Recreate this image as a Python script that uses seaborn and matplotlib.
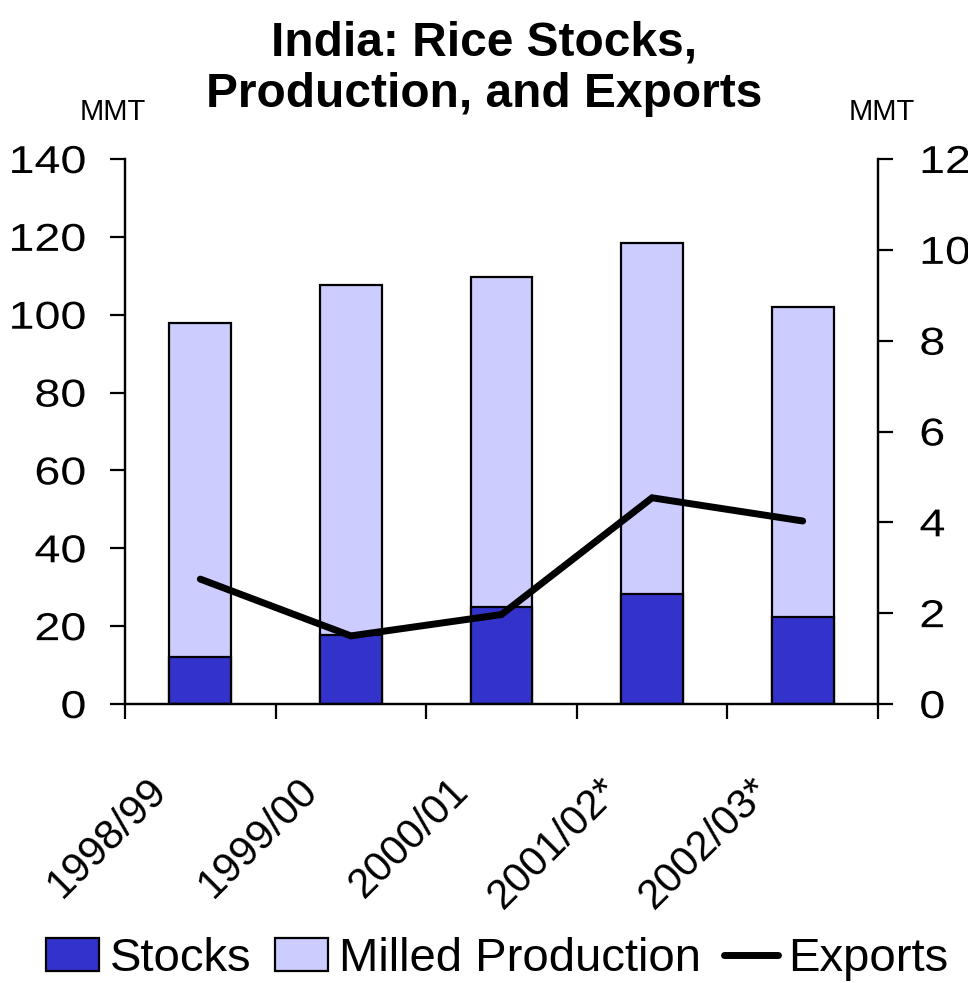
import matplotlib
matplotlib.use("Agg")
import matplotlib.pyplot as plt
import matplotlib.transforms as mtransforms
import matplotlib.patheffects as pe
from matplotlib.patches import Patch
from matplotlib.lines import Line2D
import seaborn as sns
import pandas as pd
import numpy as np

categories = ["1998/99", "1999/00", "2000/01", "2001/02*", "2002/03*"]
stocks = [12.0, 17.8, 25.0, 28.2, 22.4]
milled_production = [86.0, 89.9, 84.8, 90.3, 79.7]
exports = [2.75, 1.50, 1.97, 4.54, 4.03]

sns.set_theme(style="white")
plt.rcParams['font.family'] = ['Liberation Sans', 'DejaVu Sans']
for k in ("text.color", "axes.labelcolor", "xtick.color", "ytick.color", "axes.edgecolor"):
    plt.rcParams[k] = "black"


class Stretch(pe.AbstractPathEffect):
    """Horizontally widen glyphs, keeping one side of the ink fixed (display space)."""
    def __init__(self, sx=1.0, anchor="left"):
        super().__init__()
        self.sx = sx
        self.anchor = anchor

    def draw_path(self, renderer, gc, tpath, affine, rgbFace=None):
        ext = tpath.get_extents(affine)
        x0 = ext.x1 if self.anchor == "right" else ext.x0
        t = mtransforms.Affine2D().translate(-x0, 0).scale(self.sx, 1.0).translate(x0, 0)
        renderer.draw_path(gc, tpath, affine + t, rgbFace)


df = pd.DataFrame({
    "season": categories,
    "stocks": stocks,
    "total": np.array(stocks) + np.array(milled_production),
    "exports": exports,
})

fig = plt.figure(figsize=(9.68, 9.83), dpi=100)
ax = fig.add_axes([125/968, 1-704/983, (878-125)/968, (704-159)/983])

light = "#CCCCFF"
dark = "#3333CC"
sns.barplot(data=df, x="season", y="total", color=light, edgecolor="black",
            linewidth=1.6, width=0.41, saturation=1, ax=ax)
sns.barplot(data=df, x="season", y="stocks", color=dark, edgecolor="black",
            linewidth=1.6, width=0.41, saturation=1, ax=ax)

ax.set_xlim(-0.5, 4.5)
ax.set_ylim(0, 140)
ax.set_yticks(range(0, 141, 20))
ax.set_xlabel("")
ax.set_ylabel("")

ax2 = ax.twinx()
sns.lineplot(x=np.arange(len(categories)), y=df["exports"], color="black",
             linewidth=5.0, ax=ax2, solid_capstyle="round", solid_joinstyle="miter")
ax2.set_ylim(0, 12)
ax2.set_yticks(range(0, 13, 2))
ax2.set_xlim(-0.5, 4.5)
ax2.set_ylabel("")

for a in (ax, ax2):
    for s in a.spines.values():
        s.set_linewidth(1.6)
        s.set_color("black")
    a.spines["top"].set_visible(False)

ax.tick_params(axis="y", direction="out", length=11, width=1.6, labelsize=28, pad=17, left=True)
ax2.tick_params(axis="y", direction="out", length=11, width=1.6, labelsize=28, pad=19, right=True)
for lbl in ax.get_yticklabels():
    lbl.set_path_effects([Stretch(1.2, "right")])
for lbl in ax2.get_yticklabels():
    lbl.set_path_effects([Stretch(1.2, "left")])

# x: labels at centers (no tick), tick marks at category boundaries
ax.set_xticks(range(len(categories)))
ax.set_xticklabels(categories, rotation=45, ha="right", va="top", fontsize=30)
ax.tick_params(axis="x", which="major", length=0, pad=48)
ax.set_xticks(np.arange(-0.5, len(categories), 1.0), minor=True)
ax.tick_params(axis="x", which="minor", direction="out", length=11, width=1.6, bottom=True)
offset = mtransforms.ScaledTranslation(-25/100, 0, fig.dpi_scale_trans)
for lbl in ax.get_xticklabels():
    lbl.set_transform(lbl.get_transform() + offset)

fig.text(0.5, 1-69/983, "India: Rice Stocks,\nProduction, and Exports", ha="center", va="center",
         fontsize=34.5, fontweight="bold", linespacing=1.18)
fig.text(113/968, 1-112/983, "MMT", ha="center", va="center", fontsize=21)
fig.text(882/968, 1-112/983, "MMT", ha="center", va="center", fontsize=21)

handles = [Patch(facecolor=dark, edgecolor="black", linewidth=1.6),
           Patch(facecolor=light, edgecolor="black", linewidth=1.6),
           Line2D([0], [0], color="black", linewidth=5)]
fig.legend(handles, ["Stocks", "Milled Production", "Exports"], loc="center",
           bbox_to_anchor=(497/968, 1-959/983), ncol=3, frameon=False, fontsize=34,
           handlelength=1.13, handleheight=0.68, handletextpad=0.22, columnspacing=0.5,
           borderaxespad=0)

fig.savefig("out.png", dpi=100)
